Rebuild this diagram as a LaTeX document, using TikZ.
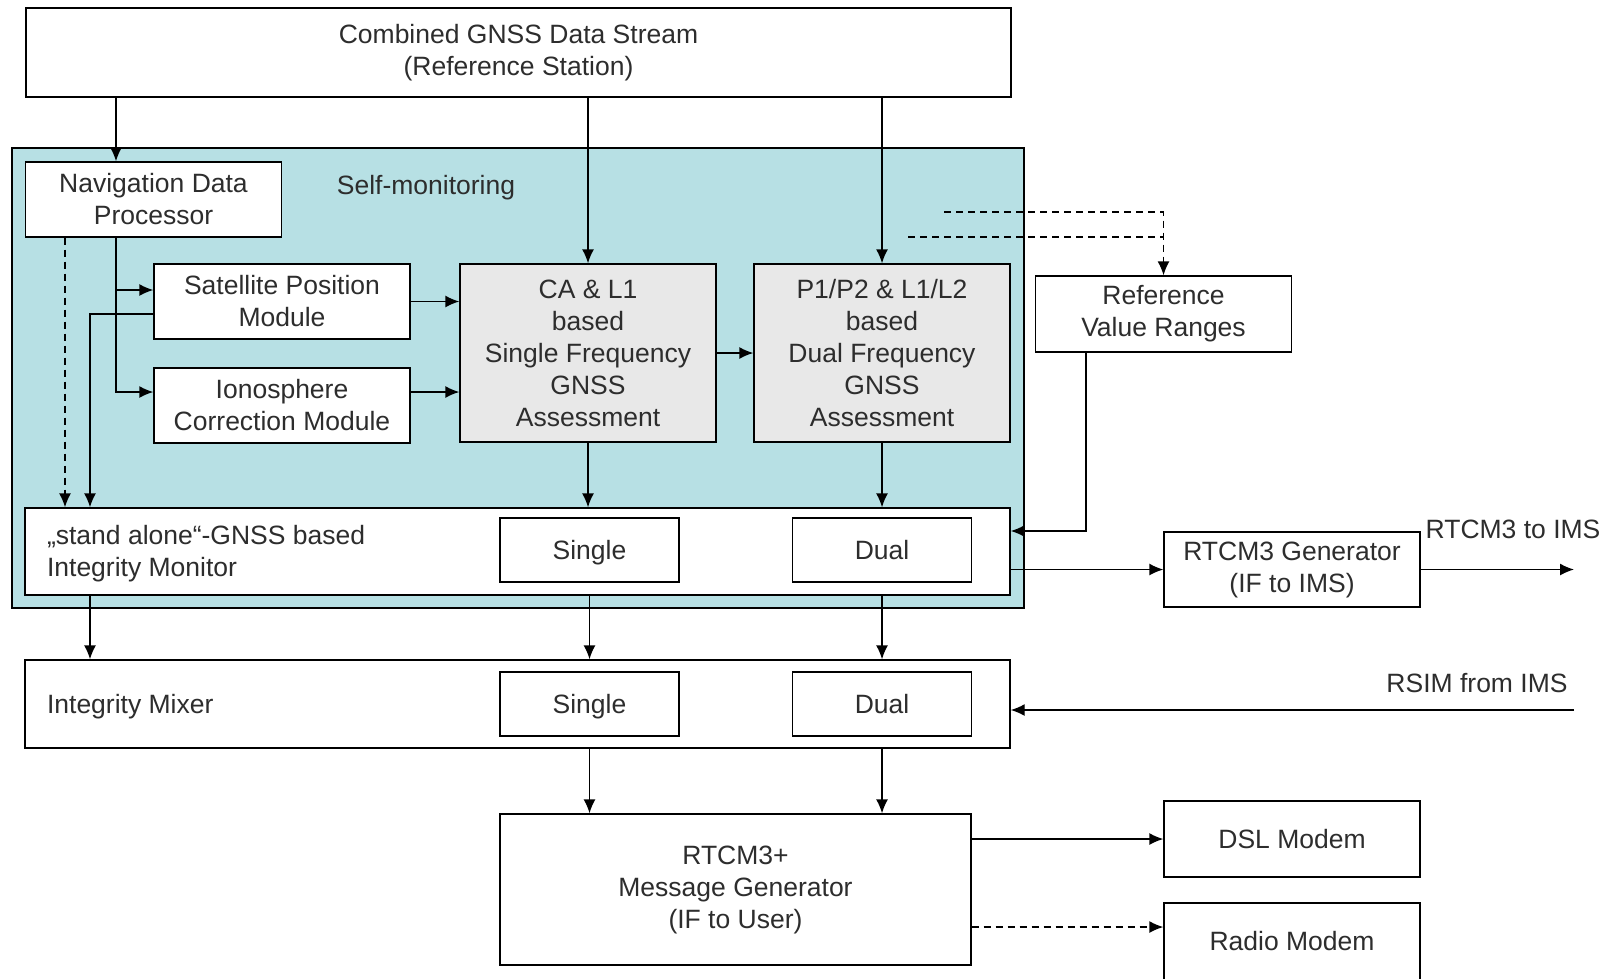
\documentclass[tikz,border=0pt]{standalone}
\usepackage{fontspec}
\setmainfont{Liberation Sans}
\usetikzlibrary{arrows.meta}

\definecolor{monteal}{RGB}{183,224,228}
\definecolor{assessgray}{RGB}{232,232,232}
\definecolor{txtgray}{RGB}{45,45,45}

\tikzset{
  blk/.style={draw, fill=white, inner sep=0pt, align=center},
  modblk/.style={blk, minimum width=256pt, minimum height=75pt},
  assessblk/.style={blk, fill=assessgray, minimum width=256pt, minimum height=178pt},
  wideblk/.style={blk, minimum width=985pt, minimum height=88pt},
  modeblk/.style={blk, minimum width=179pt, minimum height=64pt, text height=19pt, text depth=0pt},
  dashline/.style={dash pattern=on 7pt off 5pt}
}

\begin{document}
\begin{tikzpicture}[x=1pt, y=-1pt, line width=1.4pt,
    >={Latex[length=14pt,width=12pt]},
    every node/.style={font=\fontsize{26.5}{32}\selectfont, text=txtgray}]
  \useasboundingbox (0,0) rectangle (1605,978);

  % self-monitoring area
  \draw[fill=monteal] (12,148) rectangle (1024,608);
  \node (selftxt) at (426,188) {Self-monitoring};

  % blocks
  \node[wideblk, minimum height=89pt] (stream) at (518.5,52.5) {Combined GNSS Data Stream\\(Reference Station)};
  \node[modblk] (nav) at (153.5,199.5) {Navigation Data\\Processor};
  \node[modblk] (satpos) at (282,301.5) {Satellite Position\\Module};
  \node[modblk] (iono) at (282,405.5) {Ionosphere\\Correction Module};
  \node[assessblk] (ca) at (588,353) {CA \& L1\\based\\Single Frequency\\GNSS\\Assessment};
  \node[assessblk] (pp) at (882,353) {P1/P2 \& L1/L2\\based\\Dual Frequency\\GNSS\\Assessment};
  \node[modblk, minimum height=76pt] (refv) at (1163.5,314) {Reference\\Value Ranges};

  \node[wideblk, minimum height=87pt] (alone) at (517.5,551.5) {};
  \node[anchor=west, align=left] (alonetxt) at (43,554) {„stand alone“-GNSS based\\Integrity Monitor};
  \node[modeblk] (single1) at (589.5,550) {Single};
  \node[modeblk] (dual1) at (882,550) {Dual};
  \node[modblk] (gen) at (1292,569.5) {RTCM3 Generator\\(IF to IMS)};

  \node[wideblk] (mixer) at (517.5,704) {};
  \node[anchor=west] (mixtxt) at (43,707) {Integrity Mixer};
  \node[modeblk] (single2) at (589.5,704) {Single};
  \node[modeblk] (dual2) at (882,704) {Dual};

  \node[blk, minimum width=471pt, minimum height=151pt] (msg) at (735.5,889.5) {RTCM3+\\Message Generator\\(IF to User)};
  \node[modblk, minimum height=76pt] (dsl) at (1292,839) {DSL Modem};
  \node[modblk, minimum height=77pt] (radio) at (1292,941.5) {Radio Modem};

  % columns and free ends
  \coordinate (colnav) at (116,0);
  \coordinate (coldash) at (65,0);
  \coordinate (colsat) at (90,0);
  \coordinate (colref) at (1086,0);
  \coordinate (dashA) at (944,212);
  \coordinate (dashB) at (908,237);
  \coordinate (outims) at (1574,569.5);
  \coordinate (inims) at (1574,710);

  % stream
  \draw[->] (colnav |- stream.south) -- (colnav |- nav.north);
  \draw[->] (stream.south -| ca.north) -- (ca.north);
  \draw[->] (stream.south -| pp.north) -- (pp.north);

  % navigation data
  \draw[->] (colnav |- nav.south) |- ([yshift=11.5pt]satpos.west);
  \draw[->] (colnav |- nav.south) |- ([yshift=13.5pt]iono.west);
  \draw[->, dashline] (coldash |- nav.south) -- (coldash |- alone.north);
  \draw[->] ([yshift=-12.5pt]satpos.west) -| (colsat |- alone.north);

  % assessment
  \draw[->] (satpos.east) -- (satpos.east -| ca.west);
  \draw[->] ([yshift=13.5pt]iono.east) -- ([yshift=13.5pt]iono.east -| ca.west);
  \draw[->] (ca.east) -- (pp.west);
  \draw[->] (ca.south) -- (ca.south |- alone.north);
  \draw[->] (pp.south) -- (pp.south |- alone.north);

  % reference values
  \draw[->, dashline] (dashA) -| (refv.north);
  \draw[dashline] (dashB) -- (dashB -| refv.north);
  \draw[->] (colref |- refv.south) |- ([yshift=20.5pt]alone.east);

  % to IMS
  \draw[->] (gen.west -| alone.east) -- (gen.west);
  \draw[->] (gen.east) -- (outims);
  \node (toims) at (1513,529) {RTCM3 to IMS};
  \draw[->] (inims) -- (inims -| mixer.east);
  \node (fromims) at (1477,683) {RSIM from IMS};

  % mixer
  \draw[->] (colsat |- alone.south) -- (colsat |- mixer.north);
  \draw[->] (single1 |- alone.south) -- (single1 |- mixer.north);
  \draw[->] (dual1 |- alone.south) -- (dual1 |- mixer.north);
  \draw[->] (single2 |- mixer.south) -- (single2 |- msg.north);
  \draw[->] (dual2 |- mixer.south) -- (dual2 |- msg.north);

  % modems
  \draw[->] (dsl.west -| msg.east) -- (dsl.west);
  \draw[->, dashline] ([yshift=14.5pt]radio.west -| msg.east) -- ([yshift=14.5pt]radio.west);
\end{tikzpicture}
\end{document}
